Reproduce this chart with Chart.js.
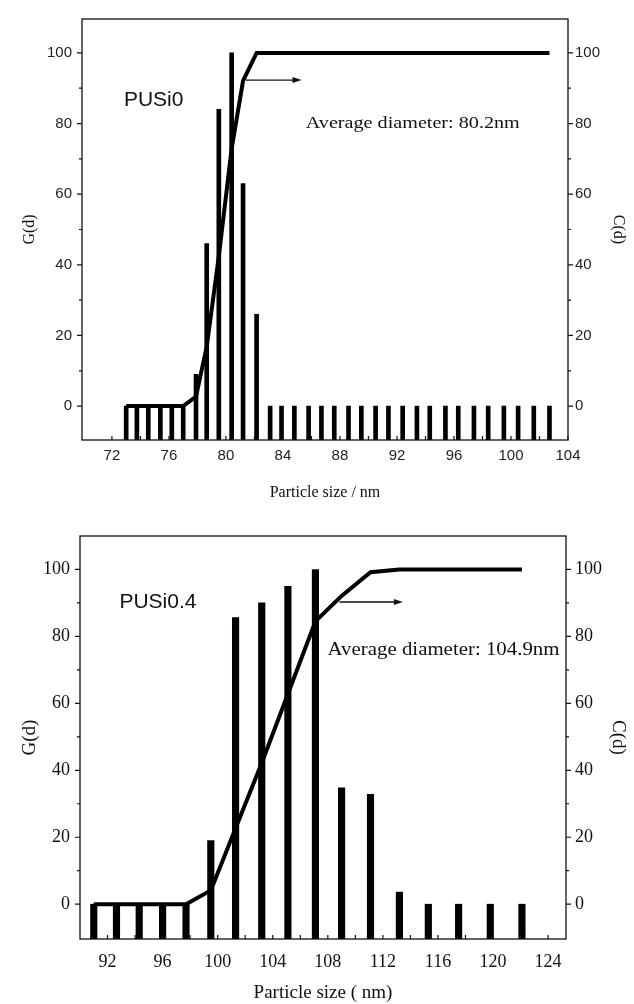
<!DOCTYPE html>
<html>
<head>
<meta charset="utf-8">
<script src="https://cdn.jsdelivr.net/npm/chart.js@4.4.0/dist/chart.umd.min.js"></script>
<style>
  html, body { margin: 0; padding: 0; background: #fff; }
  .box { position: absolute; left: 0; width: 634px; height: 502px; }
</style>
</head>
<body>
<div class="box" style="top:0"><canvas id="chart0"></canvas></div>
<div class="box" style="top:502px"><canvas id="chart4"></canvas></div>
<script>
// PUSi0 - particle size bins (nm), G(d) bars, C(d) cumulative line
const sizes0 = [73.0, 73.75, 74.55, 75.4, 76.2, 77.0, 77.9, 78.65, 79.5, 80.4, 81.2, 82.15, 83.1, 83.9,
  84.8, 85.8, 86.7, 87.6, 88.6, 89.5, 90.5, 91.4, 92.4, 93.4, 94.3, 95.4, 96.3, 97.4, 98.4, 99.5,
  100.5, 101.6, 102.7];
const g0 = [0, 0, 0, 0, 0, 0, 9, 46, 84, 100, 63, 26, 0, 0,
  0, 0, 0, 0, 0, 0, 0, 0, 0, 0, 0, 0, 0, 0, 0, 0,
  0, 0, 0];
const c0 = [0, 0, 0, 0, 0, 0, 2.7, 16.8, 42.4, 72.9, 92.1, 100, 100, 100,
  100, 100, 100, 100, 100, 100, 100, 100, 100, 100, 100, 100, 100, 100, 100, 100,
  100, 100, 100];
const xTicks0 = [72, 76, 80, 84, 88, 92, 96, 100, 104];

// PUSi0.4
const sizes4 = [91.0, 92.65, 94.3, 96.0, 97.7, 99.5, 101.3, 103.2, 105.1, 107.1, 109.0, 111.1, 113.2,
  115.3, 117.5, 119.8, 122.1];
const g4 = [0, 0, 0, 0, 0, 19, 85.6, 90, 95, 100, 34.8, 32.8, 3.6, 0, 0, 0, 0];
const c4 = [0, 0, 0, 0, 0, 4.1, 22.7, 42.2, 62.8, 84.5, 92.1, 99.2, 100, 100, 100, 100, 100];
const xTicks4 = [92, 96, 100, 104, 108, 112, 116, 120, 124];

const yTicks = [0, 20, 40, 60, 80, 100];

// frame box + small tick marks (x inward, y outward)
const framePlugin = {
  id: 'frame',
  afterDraw(chart, args, o) {
    const { ctx, chartArea: a, scales: { x, y } } = chart;
    ctx.save();
    ctx.strokeStyle = '#111';
    ctx.lineWidth = 1.3;
    ctx.strokeRect(a.left, a.top, a.right - a.left, a.bottom - a.top);
    ctx.lineWidth = 1.2;
    ctx.beginPath();
    for (let v = o.xFrom; v <= x.max; v += 2) {
      const px = x.getPixelForValue(v);
      ctx.moveTo(px, a.bottom);
      ctx.lineTo(px, a.bottom - 4);
    }
    for (let v = 0; v <= 100; v += 10) {
      const py = y.getPixelForValue(v);
      const len = v % 20 === 0 ? 5 : 3;
      ctx.moveTo(a.left - len, py); ctx.lineTo(a.left, py);
      ctx.moveTo(a.right, py); ctx.lineTo(a.right + len, py);
    }
    ctx.stroke();
    ctx.restore();
  }
};

// sample name, average diameter text, arrow pointing to the right axis
const notePlugin = {
  id: 'notes',
  afterDraw(chart, args, o) {
    const { ctx, scales: { x, y2 } } = chart;
    ctx.save();
    ctx.fillStyle = '#111';
    ctx.textBaseline = 'middle';
    ctx.font = o.sampleFont;
    ctx.fillText(o.sample, x.getPixelForValue(o.sampleAt[0]), y2.getPixelForValue(o.sampleAt[1]));

    ctx.font = o.avgFont;
    const w = ctx.measureText(o.avg).width;
    const ax = x.getPixelForValue(o.avgAt[0]);
    const ay = y2.getPixelForValue(o.avgAt[1]);
    ctx.translate(ax, ay);
    ctx.scale(o.avgWidth / w, 1);
    ctx.fillText(o.avg, 0, 0);
    ctx.setTransform(1, 0, 0, 1, 0, 0);

    const x1 = x.getPixelForValue(o.arrow[0]);
    const x2 = x.getPixelForValue(o.arrow[1]);
    const py = y2.getPixelForValue(o.arrow[2]);
    ctx.strokeStyle = '#111';
    ctx.lineWidth = 1.4;
    ctx.beginPath();
    ctx.moveTo(x1, py);
    ctx.lineTo(x2 - 6, py);
    ctx.stroke();
    ctx.beginPath();
    ctx.moveTo(x2, py);
    ctx.lineTo(x2 - 9, py - 3);
    ctx.lineTo(x2 - 9, py + 3);
    ctx.closePath();
    ctx.fill();
    ctx.restore();
  }
};

function makeChart(id, cfg) {
  const ctx = document.getElementById(id).getContext('2d');
  const tickFont = { family: cfg.tickFamily, size: cfg.tickSize };
  const titleFont = { family: 'Liberation Serif', size: cfg.titleSize };
  return new Chart(ctx, {
    type: 'bar',
    data: {
      datasets: [
        {
          type: 'line',
          label: 'C(d)',
          data: cfg.sizes.map((s, i) => ({ x: s, y: cfg.cum[i] })),
          yAxisID: 'y2',
          borderColor: '#000',
          borderWidth: 4,
          pointRadius: 0,
          tension: 0,
          fill: false
        },
        {
          label: 'G(d)',
          data: cfg.sizes.map((s, i) => ({ x: s, y: cfg.g[i] })),
          yAxisID: 'y',
          backgroundColor: '#000',
          barThickness: cfg.barWidth,
          base: cfg.yMin
        }
      ]
    },
    options: {
      responsive: true,
      maintainAspectRatio: false,
      animation: false,
      layout: { padding: { top: cfg.area.top, left: 0, right: 0, bottom: 0 } },
      plugins: {
        legend: { display: false },
        tooltip: { enabled: false },
        frame: { xFrom: cfg.xTicks[0] },
        notes: cfg.notes
      },
      scales: {
        x: {
          type: 'linear',
          offset: false,
          min: cfg.xMin,
          max: cfg.xMax,
          afterBuildTicks: s => { s.ticks = cfg.xTicks.map(v => ({ value: v })); },
          afterFit: s => { s.height = 502 - cfg.area.bottom; },
          grid: { display: false, drawTicks: false },
          border: { display: false },
          ticks: { font: tickFont, color: cfg.tickColor, padding: cfg.xPad, maxRotation: 0, autoSkip: false },
          title: { display: true, text: cfg.xTitle, font: titleFont, color: '#111', padding: { top: 0, bottom: 0 } }
        },
        y: {
          position: 'left',
          min: cfg.yMin,
          max: cfg.yMax,
          afterBuildTicks: s => { s.ticks = yTicks.map(v => ({ value: v })); },
          afterFit: s => { s.width = cfg.area.left; },
          grid: { display: false, drawTicks: false },
          border: { display: false },
          ticks: { font: tickFont, color: cfg.tickColor, padding: cfg.yPad },
          title: { display: true, text: 'G(d)', font: titleFont, color: '#111', padding: { top: cfg.gTitlePad, bottom: 0 } }
        },
        y2: {
          position: 'right',
          min: cfg.yMin,
          max: cfg.yMax,
          afterBuildTicks: s => { s.ticks = yTicks.map(v => ({ value: v })); },
          afterFit: s => { s.width = 634 - cfg.area.right; },
          grid: { display: false, drawTicks: false },
          border: { display: false },
          ticks: { font: tickFont, color: cfg.tickColor, padding: cfg.y2Pad },
          title: { display: true, text: 'C(d)', font: titleFont, color: '#111', padding: { top: cfg.cTitlePad, bottom: 0 } }
        }
      }
    },
    plugins: [framePlugin, notePlugin]
  });
}

makeChart('chart0', {
  sizes: sizes0, g: g0, cum: c0, xTicks: xTicks0,
  xMin: 69.9, xMax: 104, yMin: -9.6, yMax: 109.6,
  area: { left: 82, right: 568, top: 15, bottom: 440 },
  tickFamily: 'Liberation Sans', tickSize: 15, tickColor: '#222', titleSize: 16,
  xPad: 7, yPad: 10, y2Pad: 7, gTitlePad: 20, cTitlePad: 6,
  xTitle: 'Particle size / nm', barWidth: 4,
  notes: {
    sample: 'PUSi0', sampleFont: '21px "Liberation Sans"', sampleAt: [72.84, 86.6],
    avg: 'Average diameter: 80.2nm', avgFont: '17px "Liberation Serif"', avgAt: [85.6, 80.1], avgWidth: 214,
    arrow: [81.4, 85.3, 92.3]
  }
});

makeChart('chart4', {
  sizes: sizes4, g: g4, cum: c4, xTicks: xTicks4,
  xMin: 90, xMax: 125.3, yMin: -10.4, yMax: 110,
  area: { left: 80, right: 566, top: 34, bottom: 437 },
  tickFamily: 'Liberation Serif', tickSize: 18, tickColor: '#111', titleSize: 19,
  xPad: 12, yPad: 10, y2Pad: 9, gTitlePad: 19, cTitlePad: 5,
  xTitle: 'Particle size ( nm)', barWidth: 6.5,
  notes: {
    sample: 'PUSi0.4', sampleFont: '21px "Liberation Sans"', sampleAt: [92.86, 90.2],
    avg: 'Average diameter: 104.9nm', avgFont: '19px "Liberation Serif"', avgAt: [107.98, 75.9], avgWidth: 232,
    arrow: [108.85, 113.45, 90.3]
  }
});
</script>
</body>
</html>
